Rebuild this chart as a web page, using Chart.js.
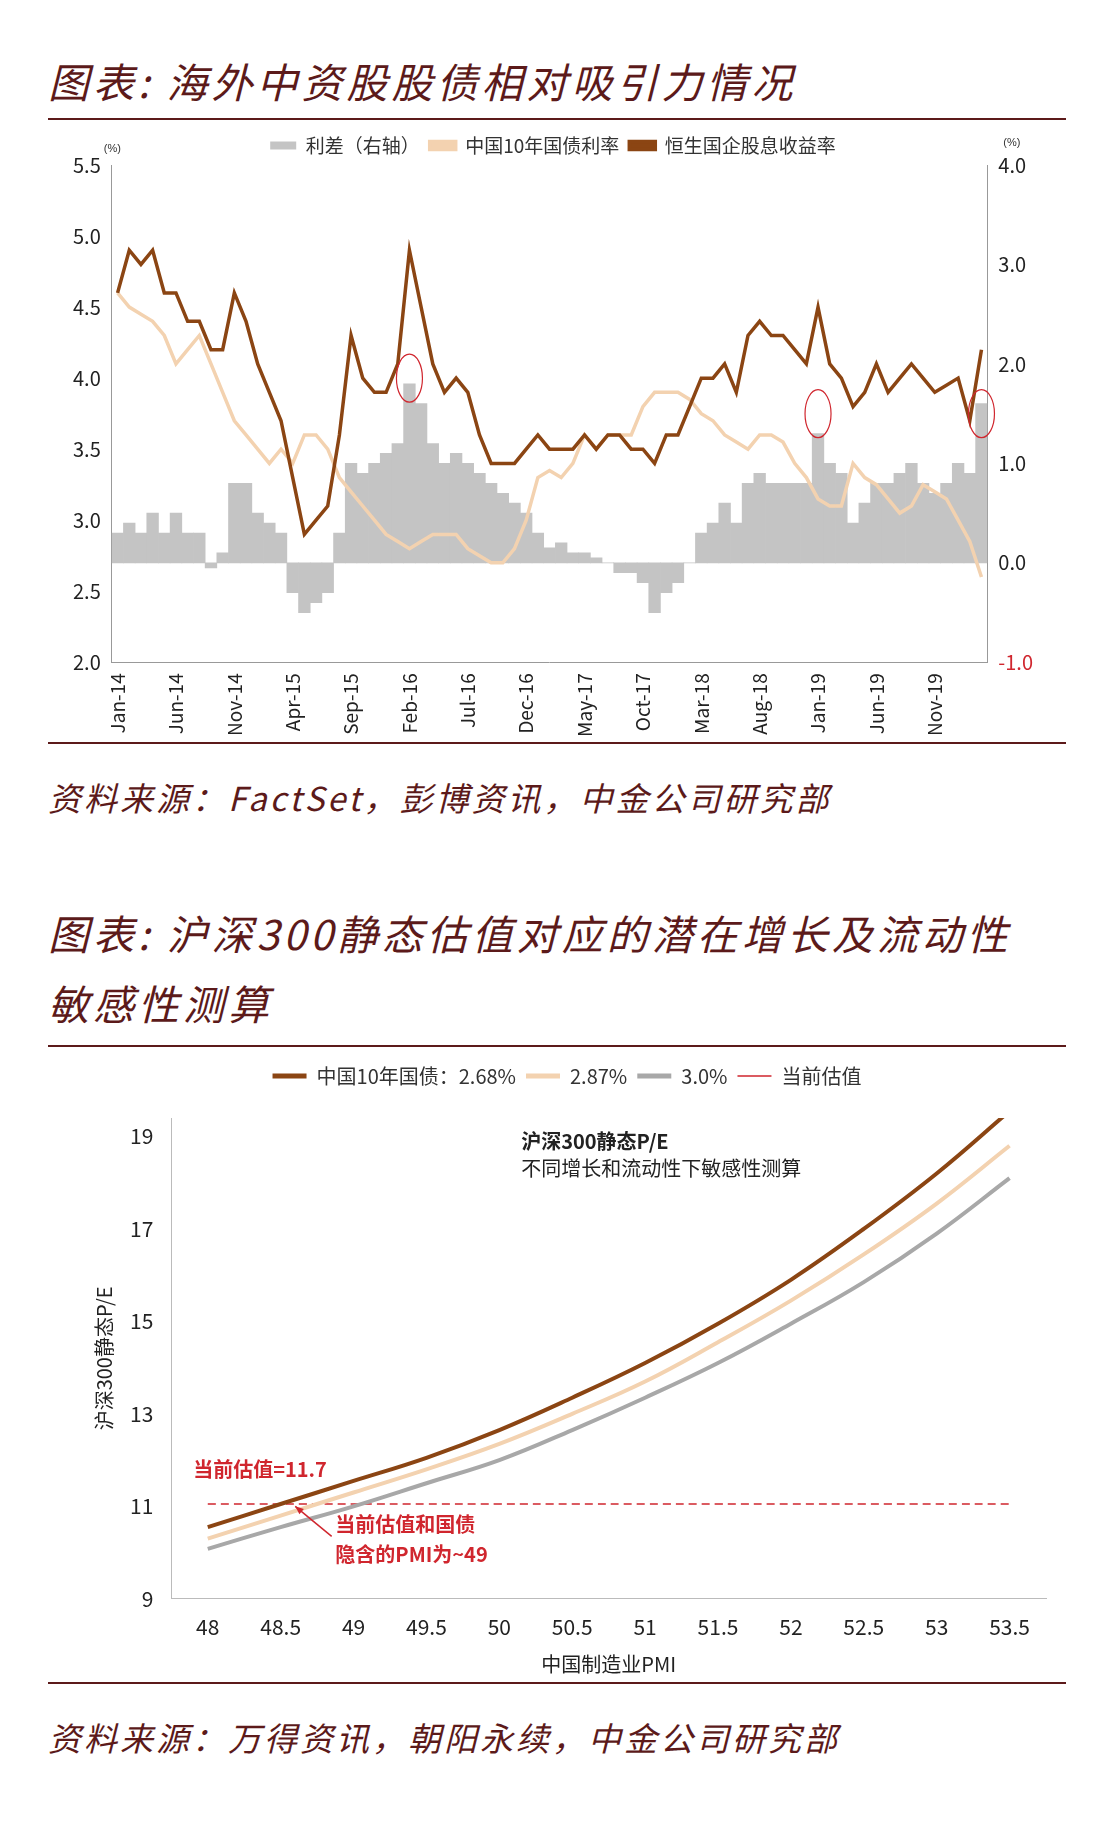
<!DOCTYPE html>
<html><head><meta charset="utf-8">
<script src="https://cdn.jsdelivr.net/npm/chart.js@4.4.1/dist/chart.umd.min.js"></script>
<style>
body{margin:0;background:#fff;font-family:"Noto Sans CJK SC","Noto Sans",sans-serif;}
.wrap{position:relative;width:1100px;height:1832px;}
.title{position:absolute;left:48px;color:#5c1a1a;font-style:italic;font-size:41px;line-height:70px;letter-spacing:4px;white-space:nowrap;}
.rule{position:absolute;left:48px;width:1018px;height:2px;background:#5c1a1a;}
.src{position:absolute;left:48px;color:#5c1a1a;font-style:italic;font-size:33px;letter-spacing:3px;}
.box{position:absolute;left:48px;width:1018px;}
</style></head><body><div class="wrap">
<div class="title" style="top:45px">图表: 海外中资股股债相对吸引力情况</div>
<div class="rule" style="top:118px"></div>
<div class="box" style="top:122px;height:618px"><canvas id="c1"></canvas></div>
<div class="rule" style="top:742px"></div>
<div class="src" style="top:773px">资料来源：FactSet，彭博资讯，中金公司研究部</div>
<div class="title" style="top:897px">图表: 沪深300静态估值对应的潜在增长及流动性<br>敏感性测算</div>
<div class="rule" style="top:1045px"></div>
<div class="box" style="top:1056px;height:624px"><canvas id="c2"></canvas></div>
<div class="rule" style="top:1682px"></div>
<div class="src" style="top:1713px">资料来源：万得资讯，朝阳永续，中金公司研究部</div>
</div>
<script>
// ---- chart 1 data (monthly, Jan-14 .. Mar-20)
const monthNames = ['Jan','Feb','Mar','Apr','May','Jun','Jul','Aug','Sep','Oct','Nov','Dec'];
const months = [];
for (let y = 14; y <= 20; y++) for (let m = 0; m < 12; m++) if (months.length < 75) months.push(monthNames[m] + '-' + y);
const hsceiYield = [4.6,4.9,4.8,4.9,4.6,4.6,4.4,4.4,4.2,4.2,4.6,4.4,4.1,3.9,3.7,3.3,2.9,3.0,3.1,3.6,4.3,4.0,3.9,3.9,4.1,4.9,4.5,4.1,3.9,4.0,3.9,3.6,3.4,3.4,3.4,3.5,3.6,3.5,3.5,3.5,3.6,3.5,3.6,3.6,3.5,3.5,3.4,3.6,3.6,3.8,4.0,4.0,4.1,3.9,4.3,4.4,4.3,4.3,4.2,4.1,4.5,4.1,4.0,3.8,3.9,4.1,3.9,4.0,4.1,4.0,3.9,3.95,4.0,3.7,4.2];
const bondYield = [4.6,4.5,4.45,4.4,4.3,4.1,4.2,4.3,4.1,3.9,3.7,3.6,3.5,3.4,3.5,3.4,3.6,3.6,3.5,3.3,3.2,3.1,3.0,2.9,2.85,2.8,2.85,2.9,2.9,2.9,2.8,2.75,2.7,2.7,2.8,3.0,3.3,3.35,3.3,3.4,3.6,3.5,3.6,3.6,3.6,3.8,3.9,3.9,3.9,3.85,3.75,3.7,3.6,3.55,3.5,3.6,3.6,3.55,3.4,3.3,3.15,3.1,3.1,3.4,3.3,3.25,3.15,3.05,3.1,3.25,3.2,3.15,3.0,2.85,2.6];
const spread = [0.3,0.4,0.3,0.5,0.3,0.5,0.3,0.3,-0.05,0.1,0.8,0.8,0.5,0.4,0.3,-0.3,-0.5,-0.4,-0.3,0.3,1.0,0.9,1.0,1.1,1.2,1.8,1.6,1.2,1.0,1.1,1.0,0.9,0.8,0.7,0.6,0.5,0.3,0.15,0.2,0.1,0.1,0.05,0.0,-0.1,-0.1,-0.2,-0.5,-0.3,-0.2,0.0,0.3,0.4,0.6,0.4,0.8,0.9,0.8,0.8,0.8,0.8,1.3,1.0,0.9,0.4,0.6,0.8,0.8,0.9,1.0,0.8,0.7,0.8,1.0,0.9,1.6];
const circledMonths = ['Feb-16','Jan-19','Mar-20'];

// ---- chart 2 data
const pmi = ['48','48.5','49','49.5','50','50.5','51','51.5','52','52.5','53','53.5'];
const pe268 = [10.55,11.05,11.55,12.05,12.65,13.35,14.1,14.95,15.9,17.0,18.2,19.55];
const pe287 = [10.3,10.8,11.3,11.8,12.35,13.0,13.7,14.55,15.45,16.45,17.55,18.8];
const pe300 = [10.08,10.55,11.0,11.5,12.0,12.65,13.35,14.1,14.95,15.85,16.9,18.1];
const currentPE = pmi.map(() => 11.05);

const BROWN = '#8b4513', LIGHT = '#f3d2b0', GRAY = '#a8a8a8', RED = '#d0262e';
const font = {family: '"Noto Sans CJK SC","Liberation Sans",sans-serif', size: 18};

const circles = {
  id: 'circles',
  afterDatasetsDraw(chart) {
    const {ctx, scales: {x, y}} = chart;
    ctx.save(); ctx.strokeStyle = RED; ctx.lineWidth = 1.2;
    circledMonths.forEach(m => {
      const px = x.getPixelForValue(months.indexOf(m));
      const py = y.getPixelForValue(m === 'Feb-16' ? 4.0 : 3.75);
      ctx.beginPath(); ctx.ellipse(px, py, 13, 24, 0, 0, Math.PI * 2); ctx.stroke();
    });
    ctx.fillStyle = '#333'; ctx.font = '11px "Liberation Sans"';
    ctx.fillText('(%)', x.left - 8, y.top - 16);
    ctx.fillText('(%)', x.right + 16, y.top - 22);
    ctx.restore();
  }
};

new Chart(document.getElementById('c1'), {
  type: 'bar',
  data: {
    labels: months,
    datasets: [
      {type: 'line', label: '恒生国企股息收益率', data: hsceiYield, borderColor: BROWN, backgroundColor: BROWN, borderWidth: 3.5, pointRadius: 0, yAxisID: 'y', order: 1},
      {type: 'line', label: '中国10年国债利率', data: bondYield, borderColor: LIGHT, backgroundColor: LIGHT, borderWidth: 3.5, pointRadius: 0, yAxisID: 'y', order: 2},
      {label: '利差（右轴）', data: spread, backgroundColor: '#c4c4c4', barPercentage: 1, categoryPercentage: 1, yAxisID: 'y1', order: 3}
    ]
  },
  options: {
    responsive: true, maintainAspectRatio: false, animation: false,
    layout: {padding: {left: 22, right: 30, top: 4, bottom: 0}},
    plugins: {
      legend: {reverse: true, labels: {font: {...font, size: 19}, color: '#333', boxWidth: 26, boxHeight: 8}},
      tooltip: {enabled: false}
    },
    scales: {
      x: {grid: {display: false, drawTicks: true}, border: {color: '#999'},
          ticks: {autoSkip: false, maxRotation: 90, minRotation: 90, font: {...font, size: 19}, color: '#222',
                  callback: (v, i) => i % 5 === 0 ? months[i] : ''}},
      y: {min: 2.0, max: 5.5, position: 'left', grid: {display: false}, border: {color: '#999'},
          ticks: {stepSize: 0.5, font: {...font, size: 20}, color: '#222', callback: v => v.toFixed(1)}},
      y1: {min: -1.0, max: 4.0, position: 'right', grid: {display: false}, border: {color: '#999'},
           ticks: {stepSize: 1, font: {...font, size: 20}, callback: v => v.toFixed(1),
                   color: c => c.tick.value === -1 ? RED : '#222'}}
    }
  },
  plugins: [circles]
});

const notes = {
  id: 'notes',
  afterDatasetsDraw(chart) {
    const {ctx, scales: {x, y}} = chart;
    ctx.save();
    ctx.fillStyle = '#222'; ctx.font = 'bold 20px "Noto Sans CJK SC"';
    ctx.fillText('沪深300静态P/E', x.getPixelForValue(4.3), y.getPixelForValue(18.9));
    ctx.font = '20px "Noto Sans CJK SC"';
    ctx.fillText('不同增长和流动性下敏感性测算', x.getPixelForValue(4.3), y.getPixelForValue(18.3));
    ctx.fillStyle = RED; ctx.font = 'bold 20px "Noto Sans CJK SC"';
    ctx.fillText('当前估值=11.7', x.getPixelForValue(-0.2), y.getPixelForValue(11.8));
    ctx.fillText('当前估值和国债', x.getPixelForValue(1.75), y.getPixelForValue(10.6));
    ctx.fillText('隐含的PMI为~49', x.getPixelForValue(1.75), y.getPixelForValue(9.95));
    const ax = x.getPixelForValue(1.2), ay = y.getPixelForValue(11.0);
    const bx = x.getPixelForValue(1.7), by = y.getPixelForValue(10.35);
    ctx.strokeStyle = RED; ctx.lineWidth = 1.5;
    ctx.beginPath(); ctx.moveTo(bx, by); ctx.lineTo(ax, ay); ctx.stroke();
    const ang = Math.atan2(ay - by, ax - bx);
    ctx.beginPath(); ctx.moveTo(ax, ay);
    ctx.lineTo(ax - 9 * Math.cos(ang - 0.4), ay - 9 * Math.sin(ang - 0.4));
    ctx.lineTo(ax - 9 * Math.cos(ang + 0.4), ay - 9 * Math.sin(ang + 0.4));
    ctx.closePath(); ctx.fillStyle = RED; ctx.fill();
    ctx.restore();
  }
};

const legendGap = {id: 'legendGap', beforeInit(chart) {
  const fit = chart.legend.fit;
  chart.legend.fit = function () { fit.bind(chart.legend)(); this.height += 22; };
}};

new Chart(document.getElementById('c2'), {
  type: 'line',
  data: {
    labels: pmi,
    datasets: [
      {label: '中国10年国债：2.68%', data: pe268, borderColor: BROWN, backgroundColor: BROWN, borderWidth: 4},
      {label: '2.87%', data: pe287, borderColor: LIGHT, backgroundColor: LIGHT, borderWidth: 4},
      {label: '3.0%', data: pe300, borderColor: GRAY, backgroundColor: GRAY, borderWidth: 4},
      {label: '当前估值', data: currentPE, borderColor: RED, backgroundColor: RED, borderWidth: 1.5, borderDash: [8, 5]}
    ]
  },
  options: {
    responsive: true, maintainAspectRatio: false, animation: false,
    elements: {point: {radius: 0}, line: {tension: 0.4}},
    layout: {padding: {left: 40, right: 20, top: 0, bottom: 0}},
    plugins: {
      legend: {labels: {font: {...font, size: 20}, color: '#333', boxWidth: 34, boxHeight: 0,
        generateLabels: ch => ch.data.datasets.map((d, i) => ({text: d.label, strokeStyle: d.borderColor, fillStyle: d.borderColor,
          lineWidth: d.borderDash ? 1.5 : 5, lineDash: d.borderDash || [], datasetIndex: i, fontColor: '#333'}))}},
      tooltip: {enabled: false}
    },
    scales: {
      x: {offset: true, grid: {display: false, offset: true, drawTicks: true}, border: {color: '#bbb'},
          title: {display: true, text: '中国制造业PMI', font: {...font, size: 20}, color: '#222'},
          ticks: {font: {...font, size: 21}, color: '#222', padding: 8}},
      y: {min: 9, max: 19.4, grid: {display: false, drawTicks: true}, border: {color: '#bbb'},
          afterBuildTicks: s => { s.ticks = [9, 11, 13, 15, 17, 19].map(v => ({value: v})); },
          title: {display: true, text: '沪深300静态P/E', font: {...font, size: 20}, color: '#222'},
          ticks: {font: {...font, size: 21}, color: '#222', padding: 10}}
    }
  },
  plugins: [notes, legendGap]
});
</script>
</body></html>
